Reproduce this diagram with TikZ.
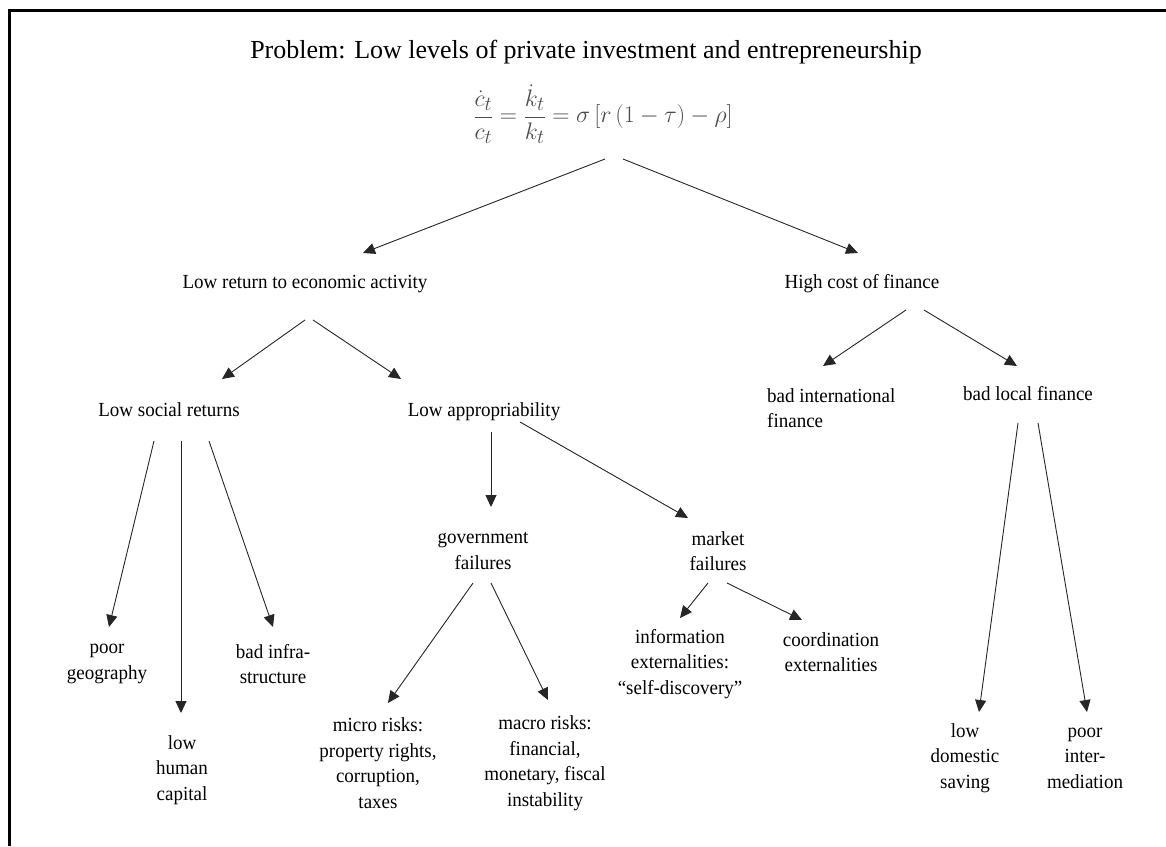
\documentclass[tikz,border=0pt]{standalone}
\usepackage[no-math]{fontspec}
\setmainfont{Liberation Serif}[FakeStretch=0.95]
\newfontfamily\titlefont{Liberation Serif}
\usetikzlibrary{arrows.meta,calc}
\begin{document}
\begin{tikzpicture}[x=1pt,y=-1pt,
  lbl/.style={inner sep=0pt, font=\fontsize{20}{25.5}\selectfont, align=center},
  arr/.style={draw=black!85, line width=0.9pt, -{Triangle[length=12pt,width=11pt]}}]
\useasboundingbox (0,0) rectangle (1166,846);
\draw[line width=3pt] (9.5,846) -- (9.5,10.5) -- (1166,10.5);

\node[inner sep=0pt, anchor=base, font=\titlefont\fontsize{26}{30}\selectfont] (title) at (586,58) {Problem: Low levels of private investment and entrepreneurship};
\node[inner sep=0pt, text=black!70, transform shape, scale=0.96, font=\fontsize{24.88}{30}\selectfont] (eq) at (603,114) {$\displaystyle \frac{\dot c_t}{c_t}=\frac{\dot k_t}{k_t}=\sigma\left[r\left(1-\tau\right)-\rho\right]$};

\node[lbl, anchor=base] (lowret) at (305,288) {Low return to economic activity};
\node[lbl, anchor=base] (highcost) at (862,288) {High cost of finance};
\node[lbl, anchor=base] (lowsoc) at (169,416) {Low social returns};
\node[lbl, anchor=base] (lowapp) at (484,416) {Low appropriability};
\node[lbl, anchor=west, align=left] (badint) at (767,408) {bad international\\finance};
\node[lbl, anchor=base] (badloc) at (1028,400) {bad local finance};

\node[lbl] (poorgeo) at (107,664) {poor\\geography};
\node[lbl] (lowhum) at (182,770) {low\\human\\capital};
\node[lbl] (badinfra) at (273,664) {bad infra-\\structure};
\node[lbl] (govfail) at (483,551) {government\\failures};
\node[lbl] (mktfail) at (718,551) {market\\failures};
\node[lbl] (info) at (680,664) {information\\externalities:\\“self-discovery”};
\node[lbl] (coord) at (831,652) {coordination\\externalities};
\node[lbl] (micro) at (378,763) {micro risks:\\property rights,\\corruption,\\taxes};
\node[lbl] (macro) at (545,763) {macro risks:\\financial,\\monetary, fiscal\\instability};
\node[lbl] (lowdom) at (965,758) {low\\domestic\\saving};
\node[lbl] (poorinter) at (1085,758) {poor\\inter-\\mediation};

\draw[arr] ($(eq)+(2,45)$) -- ($(lowret.base)+(58,-35)$);
\draw[arr] ($(eq)+(20,45)$) -- ($(highcost.base)+(-4,-35)$);
\draw[arr] ($(lowret.base)+(0,32)$) -- ($(lowsoc.base)+(53,-37)$);
\draw[arr] ($(lowret.base)+(8,32)$) -- ($(lowapp.base)+(-83,-37)$);
\draw[arr] ($(highcost.base)+(44,22)$) -- ($(badint.west)+(56,-42)$);
\draw[arr] ($(highcost.base)+(62,22)$) -- ($(badloc.base)+(-11,-34)$);
\draw[arr] ($(lowsoc.base)+(-15,25)$) -- ($(poorgeo)+(2,-37)$);
\draw[arr] ($(lowsoc.base)+(12,25)$) -- ($(lowhum)+(-1,-57)$);
\draw[arr] ($(lowsoc.base)+(40,25)$) -- ($(badinfra)+(0,-37)$);
\draw[arr] ($(lowapp.base)+(7,16)$) -- ($(govfail)+(8,-44)$);
\draw[arr] ($(lowapp.base)+(36,6)$) -- ($(mktfail)+(-30,-33)$);
\draw[arr] ($(govfail)+(-10,32)$) -- ($(micro)+(10,-60)$);
\draw[arr] ($(govfail)+(8,32)$) -- ($(macro)+(3,-63)$);
\draw[arr] ($(mktfail)+(-10,32)$) -- ($(info)+(0,-46)$);
\draw[arr] ($(mktfail)+(9,32)$) -- ($(coord)+(-29,-32)$);
\draw[arr] ($(badloc.base)+(-10,23)$) -- ($(lowdom)+(14,-46)$);
\draw[arr] ($(badloc.base)+(10,23)$) -- ($(poorinter)+(2,-46)$);
\end{tikzpicture}
\end{document}
